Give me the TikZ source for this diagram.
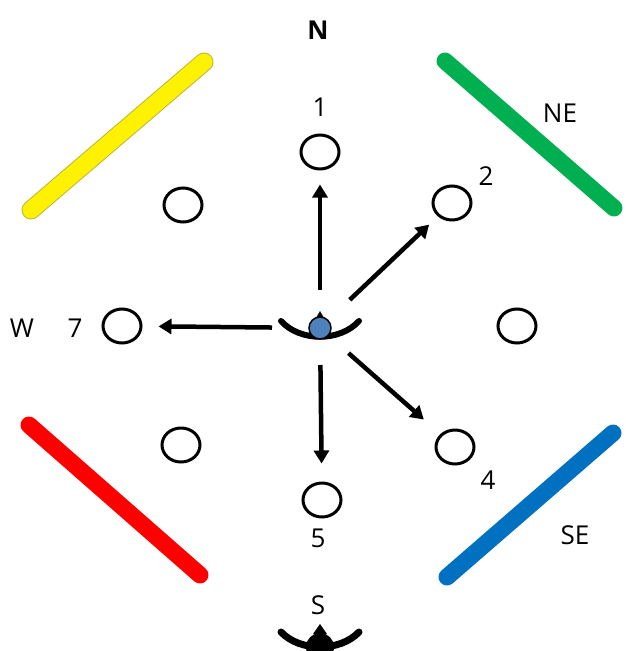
\documentclass[tikz,border=0pt]{standalone}
\usepackage{fontspec}
\setmainfont{Open Sans}
\usetikzlibrary{shapes.geometric,arrows.meta}
\tikzset{
  spot/.style={draw=black, line width=3pt, ellipse, minimum width=38pt, minimum height=34pt, inner sep=0pt},
  lbl/.style={font=\fontsize{26}{30}\selectfont, inner sep=0pt},
  bar/.style={line width=17pt, line cap=round},
  move/.style={line width=4.5pt, -{Triangle[length=13pt,width=15pt]}},
  brace/.style={line width=6pt, line cap=round}
}
\begin{document}
\begin{tikzpicture}[x=1pt,y=-1pt]
\useasboundingbox (0,0) rectangle (626,651);
% coloured walls
\draw[bar, line width=19pt, draw=yellow!70!black] (31,210) -- (204,62);
\draw[bar, line width=17pt, draw=yellow] (31,210) -- (204,62);
\draw[bar, draw={rgb,255:red,0;green,176;blue,80}] (445,61) -- (614,208);
\draw[bar, draw=red] (29,425) -- (200,575);
\draw[bar, draw={rgb,255:red,0;green,112;blue,192}] (613,433) -- (447,577);
% positions
\node[spot] (n1) at (320,152) {};
\node[spot] (n2) at (452,203) {};
\node[spot] (nw) at (183,205) {};
\node[spot] (n7) at (122,326) {};
\node[spot] (ne) at (517,326) {};
\node[spot] (sw) at (181,445) {};
\node[spot] (n4) at (455,447) {};
\node[spot] (n5) at (322,500) {};
% centre player
\coordinate (c) at (320,328);
\draw[brace] (281,321) .. controls (300,342) and (340,342) .. (359,321);
\fill (316,318) -- (320,311) -- (324,318) -- cycle;
\node[circle, fill={rgb,255:red,79;green,129;blue,189}, draw=black, line width=1.5pt, minimum size=22pt, inner sep=0pt] (p) at (c) {};
% bottom player
\draw[brace, line width=7pt] (281,632) .. controls (300,652) and (340,652) .. (359,632);
\fill (313,634) -- (320,624) -- (327,634) -- cycle;
\node[circle, fill=black, minimum size=28pt, inner sep=0pt] (q) at (320,647) {};
% moves
\draw[move, shorten <=38pt, shorten >=14pt] (c) -- (n1);
\draw[move, shorten <=41pt, shorten >=12pt] (c) -- (n2);
\draw[move, shorten <=48pt, shorten >=16pt] (c) -- (n7);
\draw[move, shorten <=37pt, shorten >=18pt] (c) -- (n5);
\draw[move, shorten <=38pt, shorten >=22pt] (c) -- (n4);
% labels
\node[lbl, font=\fontsize{26}{30}\selectfont\bfseries] (tN) at (318,30) {N};
\node[lbl] (t1) at (320,107) {1};
\node[lbl] (t2) at (486,176) {2};
\node[lbl] (t7) at (75,328) {7};
\node[lbl] (tW) at (22,328) {W};
\node[lbl] (t4) at (488,480) {4};
\node[lbl] (t5) at (318,538) {5};
\node[lbl] (tS) at (318,605) {S};
\node[lbl] (tNE) at (560,113) {NE};
\node[lbl] (tSE) at (575,535) {SE};
\end{tikzpicture}
\end{document}
